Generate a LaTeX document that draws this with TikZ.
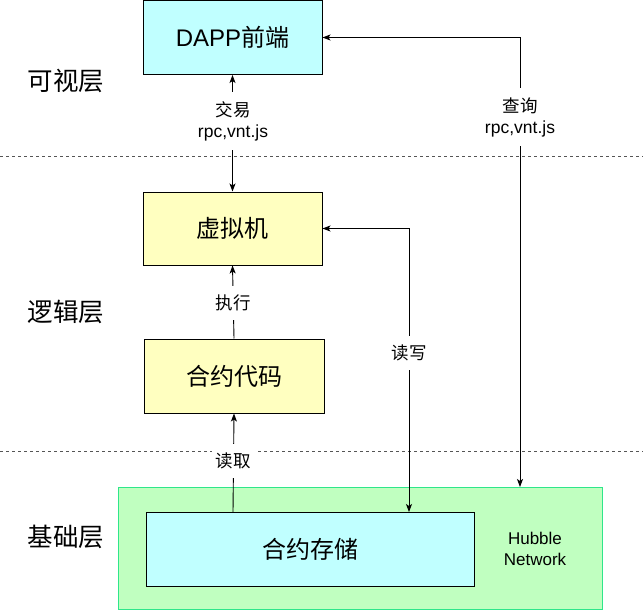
\documentclass[tikz,border=0pt]{standalone}
\usepackage{fontspec}
\setmainfont{Liberation Sans}
\newfontfamily\cjk{Noto Sans CJK SC}
\usetikzlibrary{arrows.meta}
\definecolor{cyanfill}{HTML}{C0FFFF}
\definecolor{yellowfill}{HTML}{FFFFC0}
\definecolor{greenfill}{HTML}{C0FFC0}
\definecolor{greenline}{HTML}{2EE68A}
\definecolor{dashgray}{HTML}{555555}
\tikzset{
  box/.style={draw=black, line width=1pt, inner sep=0pt, font=\fontsize{24}{28}\selectfont},
  layerlabel/.style={font=\cjk\fontsize{25.5}{28}\selectfont},
  conlabel/.style={fill=white, inner xsep=4pt, inner ysep=9pt, align=center, font=\fontsize{17.5}{21}\selectfont},
  conn/.style={line width=0.9pt, draw=black},
  tip/.style={-{Stealth[length=8pt,width=6pt,inset=2pt]}},
  tips/.style={{Stealth[length=8pt,width=6pt,inset=2pt]}-{Stealth[length=8pt,width=6pt,inset=2pt]}},
  layersep/.style={draw=dashgray, line width=0.9pt, dash pattern=on 3pt off 3pt}
}
\begin{document}
\begin{tikzpicture}[x=1pt,y=-1pt]
\useasboundingbox (0,0) rectangle (643,610);
% layer separators
\coordinate (s1l) at (0,156);
\coordinate (s1r) at (643,156);
\coordinate (s2l) at (0,451);
\coordinate (s2r) at (643,451);
\draw[layersep] (s1l) -- (s1r);
\draw[layersep] (s2l) -- (s2r);
% layer labels
\node[layerlabel] (l1) at (66,81) {可视层};
\node[layerlabel] (l2) at (66,312) {逻辑层};
\node[layerlabel] (l3) at (66,537) {基础层};
% boxes
\node[box, fill=cyanfill, minimum width=179pt, minimum height=74pt] (dapp) at (232.5,37.5) {DAPP{\cjk 前端}};
\node[box, fill=yellowfill, minimum width=179pt, minimum height=73pt] (vm) at (232.5,228.5) {\cjk 虚拟机};
\node[box, fill=yellowfill, minimum width=180pt, minimum height=74pt] (code) at (234,376) {\cjk 合约代码};
\node[draw=greenline, line width=1pt, fill=greenfill, minimum width=484pt, minimum height=122pt, inner sep=0pt] (hub) at (360,548) {};
\node[box, fill=cyanfill, minimum width=328pt, minimum height=74pt] (store) at (310,549) {\cjk 合约存储};
\node[align=center, font=\fontsize{17}{21}\selectfont] (hubtext) at (535,549) {Hubble\\Network};
% connectors
\draw[conn, tips] (dapp.south) -- (vm.north);
\node[conlabel] (lab1) at (233,121) {{\cjk 交易}\\rpc,vnt.js};
\coordinate (qend) at (520,487);
\draw[conn, tips] (qend) |- (dapp.east);
\node[conlabel] (lab2) at (520,117) {{\cjk 查询}\\rpc,vnt.js};
\draw[conn, tip] (code.north) -- (vm.south);
\node[conlabel] (lab3) at (233,303) {\cjk 执行};
\coordinate (rwend) at (409,512);
\draw[conn, tips] (vm.east) -| (rwend);
\node[conlabel] (lab4) at (409,353) {\cjk 读写};
\coordinate (rdstart) at (233,512);
\draw[conn, tip] (rdstart) -- (code.south);
\node[conlabel] (lab5) at (233,461) {\cjk 读取};
\end{tikzpicture}
\end{document}
